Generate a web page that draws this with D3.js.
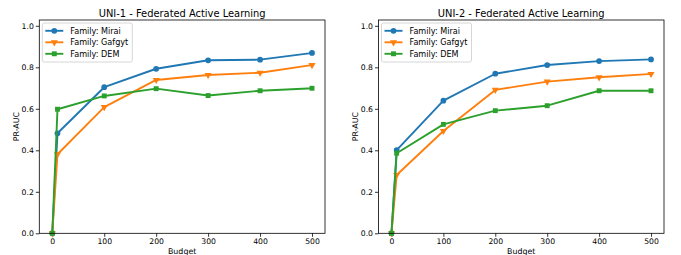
<!DOCTYPE html>
<html>
<head>
<meta charset="utf-8">
<script src="https://cdn.jsdelivr.net/npm/d3@7"></script>
<style>
  body { margin: 0; background: #fff; }
  svg { font-family: "DejaVu Sans", sans-serif; }
</style>
</head>
<body>
<svg id="chart" width="681" height="255"></svg>
<script>
var budgets = [0, 10, 100, 200, 300, 400, 500];
var familyNames = ['Family: Mirai', 'Family: Gafgyt', 'Family: DEM'];
var colors = ['#1f77b4', '#ff7f0e', '#2ca02c'];

var uni1Mirai = [0, 0.482, 0.704, 0.793, 0.834, 0.837, 0.869];
var uni1Gafgyt = [0, 0.381, 0.608, 0.739, 0.763, 0.774, 0.811];
var uni1Dem = [0, 0.598, 0.662, 0.697, 0.664, 0.687, 0.699];

var uni2Mirai = [0, 0.401, 0.639, 0.769, 0.811, 0.830, 0.838];
var uni2Gafgyt = [0, 0.281, 0.493, 0.691, 0.731, 0.752, 0.768];
var uni2Dem = [0, 0.386, 0.525, 0.591, 0.615, 0.687, 0.687];

var xTicks = [0, 100, 200, 300, 400, 500];
var yTicks = [0, 0.2, 0.4, 0.6, 0.8, 1.0];

var svg = d3.select('#chart');

function drawPanel(left, right, title, series) {
    var top = 20, bottom = 233.3;
    var x = d3.scaleLinear().domain([-25, 525]).range([left, right]);
    var y = d3.scaleLinear().domain([0, 1.028]).range([bottom, top]);
    var g = svg.append('g');

    g.append('g')
        .attr('transform', 'translate(0,' + bottom + ')')
        .call(d3.axisBottom(x).tickValues(xTicks).tickSize(3.5).tickPadding(2).tickFormat(d3.format('d')))
        .call(function (a) { a.select('.domain').remove(); });
    g.append('g')
        .attr('transform', 'translate(' + left + ',0)')
        .call(d3.axisLeft(y).tickValues(yTicks).tickSize(3.5).tickPadding(2).tickFormat(d3.format('.1f')))
        .call(function (a) { a.select('.domain').remove(); });
    g.selectAll('.tick text').attr('font-size', 7.7).attr('fill', '#000').attr('font-family', 'DejaVu Sans');
    g.selectAll('.tick line').attr('stroke', '#000').attr('stroke-width', 0.8);

    var line = d3.line().x(function (d, i) { return x(budgets[i]); }).y(function (d) { return y(d); });
    var shapes = [d3.symbolCircle, d3.symbolTriangle, d3.symbolSquare];
    var sizes = [26, 22, 24];

    series.forEach(function (vals, k) {
        g.append('path').datum(vals)
            .attr('d', line).attr('fill', 'none')
            .attr('stroke', colors[k]).attr('stroke-width', 1.9)
            .attr('stroke-linejoin', 'round').attr('stroke-linecap', 'square');
        g.selectAll('.m' + k).data(vals).enter().append('path')
            .attr('d', d3.symbol().type(shapes[k]).size(sizes[k]))
            .attr('transform', function (d, i) {
                return 'translate(' + x(budgets[i]) + ',' + y(d) + ')' + (k === 1 ? ' rotate(180)' : '');
            })
            .attr('fill', colors[k]);
    });

    g.append('rect').attr('x', left).attr('y', top)
        .attr('width', right - left).attr('height', bottom - top)
        .attr('fill', 'none').attr('stroke', '#000').attr('stroke-width', 0.8);

    g.append('text').attr('x', (left + right) / 2).attr('y', 17)
        .attr('text-anchor', 'middle').attr('font-size', 9.9).text(title);
    g.append('text').attr('x', (left + right) / 2).attr('y', 254)
        .attr('text-anchor', 'middle').attr('font-size', 7.9).text('Budget');
    g.append('text')
        .attr('transform', 'translate(' + (left - 20.5) + ',' + ((top + bottom) / 2) + ') rotate(-90)')
        .attr('text-anchor', 'middle').attr('font-size', 7.9).text('PR-AUC');

    // legend
    var lg = g.append('g').attr('transform', 'translate(' + (left + 3) + ',' + (top + 3) + ')');
    lg.append('rect').attr('width', 90).attr('height', 39).attr('rx', 2)
        .attr('fill', '#fff').attr('fill-opacity', 0.8).attr('stroke', '#ccc').attr('stroke-width', 0.8);
    familyNames.forEach(function (name, k) {
        var yy = 7.8 + k * 11.5;
        lg.append('line').attr('x1', 3).attr('x2', 21).attr('y1', yy).attr('y2', yy)
            .attr('stroke', colors[k]).attr('stroke-width', 1.9);
        lg.append('path')
            .attr('d', d3.symbol().type(shapes[k]).size(sizes[k]))
            .attr('transform', 'translate(12,' + yy + ')' + (k === 1 ? ' rotate(180)' : ''))
            .attr('fill', colors[k]);
        lg.append('text').attr('x', 28).attr('y', yy + 2.9).attr('font-size', 8.1).text(name);
    });
}

drawPanel(39.3, 325, 'UNI-1 - Federated Active Learning', [uni1Mirai, uni1Gafgyt, uni1Dem]);
drawPanel(378.5, 664, 'UNI-2 - Federated Active Learning', [uni2Mirai, uni2Gafgyt, uni2Dem]);
</script>
</body>
</html>
